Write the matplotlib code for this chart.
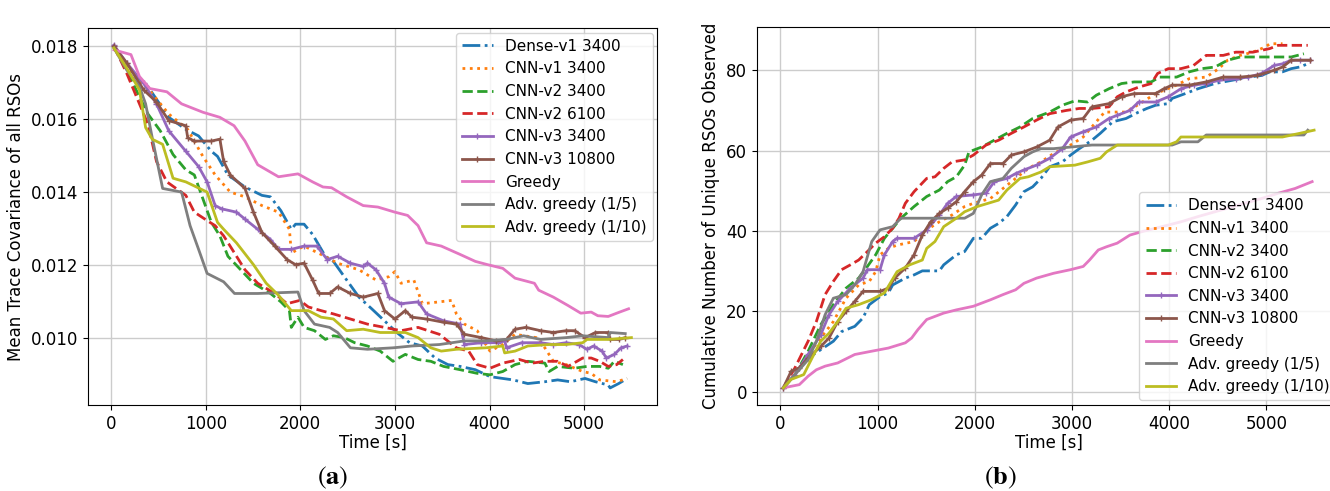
import matplotlib
matplotlib.use("Agg")
import matplotlib.pyplot as plt

plt.rcParams['mathtext.fontset'] = 'stix'

labels = ['Dense-v1 3400', 'CNN-v1 3400', 'CNN-v2 3400', 'CNN-v2 6100',
          'CNN-v3 3400', 'CNN-v3 10800', 'Greedy', 'Adv. greedy (1/5)',
          'Adv. greedy (1/10)']

# ---- (a) mean trace covariance ----
cov_dense_t = [30, 165, 390, 610, 790, 925, 1060, 1125, 1235, 1415, 1595, 1685, 1795, 1905, 1950, 2040,
               2130, 2265, 2350, 2490, 2620, 2755, 2890, 3020, 3155, 3290, 3425, 3560, 3690, 3850, 4005,
               4140, 4250, 4405, 4585, 4720, 4855, 5010, 5120, 5255, 5275, 5365, 5455]
cov_dense = [0.0180, 0.01744, 0.01689, 0.01605, 0.01572, 0.01554, 0.01512, 0.01498, 0.01447, 0.01414,
             0.01391, 0.01387, 0.01349, 0.01298, 0.01312, 0.01312, 0.01284, 0.01224, 0.01210, 0.01159,
             0.01112, 0.01080, 0.01047, 0.01015, 0.00987, 0.00978, 0.00945, 0.00927, 0.00922, 0.00913,
             0.00894, 0.00889, 0.00885, 0.00875, 0.00880, 0.00885, 0.00880, 0.00889, 0.00880, 0.00871,
             0.00863, 0.00875, 0.00889]

cov_cnn1_t = [30, 165, 390, 610, 810, 970, 1100, 1260, 1415, 1595, 1770, 1885, 1905, 2040, 2220, 2395,
              2620, 2800, 2935, 3000, 3065, 3200, 3290, 3470, 3600, 3650, 3735, 3870, 4005, 4140, 4270,
              4495, 4585, 4675, 4810, 4985, 5075, 5165, 5345, 5455]
cov_cnn1 = [0.0180, 0.01740, 0.01684, 0.01614, 0.01572, 0.01498, 0.01447, 0.01400, 0.01387, 0.01363,
            0.01345, 0.01298, 0.01233, 0.01252, 0.01229, 0.01205, 0.01187, 0.01159, 0.01168, 0.01182,
            0.01150, 0.01159, 0.01094, 0.01099, 0.01103, 0.01066, 0.01038, 0.01020, 0.00964, 0.00982,
            0.01010, 0.01001, 0.00973, 0.00936, 0.00927, 0.00908, 0.00903, 0.00885, 0.00880, 0.00889]

cov_cnn2_t = [30, 165, 300, 390, 520, 655, 790, 880, 970, 1060, 1150, 1235, 1370, 1505, 1685, 1795,
              1885, 1905, 1975, 2040, 2150, 2265, 2350, 2465, 2575, 2710, 2845, 2980, 3110, 3245, 3380,
              3515, 3690, 3870, 4005, 4140, 4270, 4405, 4585, 4630, 4720, 4895, 5030, 5165, 5255, 5320,
              5410]
cov_cnn2 = [0.0180, 0.01735, 0.01661, 0.01614, 0.01568, 0.01503, 0.01461, 0.01447, 0.01382, 0.01317,
            0.01280, 0.01224, 0.01187, 0.01150, 0.01122, 0.01099, 0.01075, 0.01029, 0.01057, 0.01029,
            0.01020, 0.00996, 0.01006, 0.01001, 0.00987, 0.00978, 0.00964, 0.00936, 0.00955, 0.00941,
            0.00936, 0.00922, 0.00913, 0.00903, 0.00899, 0.00908, 0.00927, 0.00936, 0.00931, 0.00908,
            0.00922, 0.00917, 0.00922, 0.00922, 0.00917, 0.00936, 0.00927]

cov_cnn2b_t = [30, 165, 300, 390, 480, 590, 790, 880, 1015, 1100, 1190, 1280, 1415, 1550, 1730, 1860,
               1995, 2085, 2220, 2350, 2530, 2710, 2890, 3065, 3245, 3470, 3650, 3780, 3870, 4005, 4140,
               4315, 4450, 4585, 4720, 4830, 4985, 5075, 5165, 5255, 5345, 5410]
cov_cnn2b = [0.0180, 0.01726, 0.01642, 0.01586, 0.01484, 0.01428, 0.01391, 0.01345, 0.01322, 0.01308,
             0.01280, 0.01243, 0.01187, 0.01150, 0.01122, 0.01094, 0.01103, 0.01085, 0.01075, 0.01066,
             0.01052, 0.01038, 0.01029, 0.01020, 0.01029, 0.01010, 0.00973, 0.00964, 0.00927, 0.00917,
             0.00931, 0.00941, 0.00931, 0.00936, 0.00936, 0.00922, 0.00945, 0.00945, 0.00936, 0.00922,
             0.00927, 0.00941]

cov_cnn3_t = [30, 165, 345, 480, 610, 790, 925, 1015, 1100, 1170, 1325, 1415, 1550, 1685, 1770, 1905,
              2040, 2175, 2285, 2395, 2530, 2665, 2710, 2800, 2890, 2935, 3065, 3245, 3335, 3515, 3690,
              3735, 3915, 4095, 4160, 4180, 4340, 4540, 4675, 4810, 4945, 5030, 5100, 5190, 5235, 5320,
              5390, 5455]
cov_cnn3 = [0.01803, 0.01754, 0.01698, 0.01642, 0.01568, 0.01512, 0.01470, 0.01428, 0.01363, 0.01354,
            0.01345, 0.01326, 0.01298, 0.01270, 0.01243, 0.01243, 0.01252, 0.01252, 0.01215, 0.01224,
            0.01205, 0.01196, 0.01205, 0.01187, 0.01150, 0.01112, 0.01094, 0.01099, 0.01066, 0.01047,
            0.01038, 0.00982, 0.00987, 0.00987, 0.00992, 0.00973, 0.00987, 0.00987, 0.00982, 0.00987,
            0.00982, 0.00969, 0.00978, 0.00964, 0.00945, 0.00955, 0.00973, 0.00978]

cov_cnn3b_t = [30, 165, 345, 480, 610, 790, 810, 880, 1060, 1150, 1190, 1260, 1415, 1505, 1595, 1730,
               1860, 1950, 2040, 2130, 2195, 2310, 2395, 2530, 2665, 2820, 2890, 3000, 3110, 3180, 3335,
               3515, 3650, 3735, 3915, 4070, 4180, 4270, 4385, 4540, 4675, 4810, 4900, 5010, 5120, 5255,
               5275, 5365, 5435]
cov_cnn3b = [0.0180, 0.01754, 0.01680, 0.01647, 0.01596, 0.01582, 0.01549, 0.01540, 0.01540, 0.01545,
             0.01484, 0.01447, 0.01410, 0.01345, 0.01289, 0.01252, 0.01215, 0.01201, 0.01205, 0.01159,
             0.01122, 0.01122, 0.01140, 0.01122, 0.01112, 0.01122, 0.01075, 0.01052, 0.01075, 0.01057,
             0.01052, 0.01043, 0.01038, 0.01010, 0.01001, 0.00992, 0.00996, 0.01024, 0.01029, 0.01020,
             0.01015, 0.01020, 0.01020, 0.01001, 0.01015, 0.01015, 0.00996, 0.00996, 0.01001]

cov_greedy_t = [30, 210, 300, 410, 590, 745, 970, 1150, 1300, 1415, 1550, 1770, 1975, 2130, 2240, 2330,
                2490, 2665, 2820, 3000, 3135, 3245, 3335, 3490, 3690, 3850, 3980, 4140, 4270, 4475, 4520,
                4675, 4830, 4965, 5075, 5145, 5255, 5365, 5470]
cov_greedy = [0.0179, 0.01777, 0.01717, 0.01684, 0.01675, 0.01642, 0.01619, 0.01605, 0.01582, 0.01540,
              0.01475, 0.01442, 0.01450, 0.01428, 0.01414, 0.01412, 0.01387, 0.01363, 0.01359, 0.01345,
              0.01336, 0.01308, 0.01261, 0.01252, 0.01229, 0.01210, 0.01201, 0.01191, 0.01164, 0.01150,
              0.01131, 0.01112, 0.01089, 0.01068, 0.01071, 0.01061, 0.01059, 0.01070, 0.01080]

cov_adv5_t = [30, 165, 300, 365, 435, 545, 745, 835, 925, 1015, 1190, 1305, 1550, 1975, 2040, 2150, 2310,
              2395, 2530, 2710, 2980, 3180, 3470, 3735, 3960, 4180, 4360, 4540, 4810, 4985, 5255, 5275,
              5435]
cov_adv5 = [0.01795, 0.01735, 0.01689, 0.01642, 0.01549, 0.01410, 0.01400, 0.01308, 0.01243, 0.01177,
            0.01154, 0.01122, 0.01122, 0.01126, 0.01075, 0.01038, 0.01029, 0.01015, 0.00973, 0.00969,
            0.00973, 0.00978, 0.00982, 0.00992, 0.00992, 0.00996, 0.01006, 0.00996, 0.01001, 0.01006,
            0.01001, 0.01015, 0.01012]

cov_adv10_t = [30, 165, 300, 365, 435, 545, 655, 790, 1015, 1125, 1190, 1325, 1505, 1640, 1770, 1905,
               2085, 2220, 2350, 2490, 2665, 2845, 3110, 3245, 3380, 3490, 3650, 3960, 4140, 4160, 4270,
               4405, 4630, 4810, 4985, 5030, 5255, 5500]
cov_adv10 = [0.01795, 0.01740, 0.01680, 0.01577, 0.01545, 0.01531, 0.01438, 0.01428, 0.01400, 0.01317,
             0.01298, 0.01261, 0.01201, 0.01150, 0.01117, 0.01075, 0.01075, 0.01057, 0.01052, 0.01020,
             0.01024, 0.01015, 0.01015, 0.01001, 0.00973, 0.00964, 0.00969, 0.00973, 0.00978, 0.00959,
             0.00964, 0.00978, 0.00982, 0.00982, 0.00987, 0.00996, 0.00996, 0.01001]

# ---- (b) cumulative unique RSOs ----
obs_dense_t = [30, 150, 285, 415, 545, 630, 765, 850, 915, 1025, 1110, 1155, 1285, 1375, 1460, 1635,
               1680, 1810, 1895, 1985, 2070, 2160, 2245, 2330, 2420, 2505, 2595, 2680, 2770, 2900, 2985,
               3075, 3205, 3290, 3420, 3555, 3685, 3770, 3860, 3990, 4030, 4165, 4295, 4470, 4645, 4815,
               4950, 5035, 5165, 5255, 5340, 5425]
obs_dense = [1, 4.3, 8.4, 10.5, 12.6, 15, 16.3, 18.4, 21.7, 23.7, 24.6, 26.6, 28.3, 29.1, 30.1, 30.1,
             31.6, 34.1, 34.9, 38.2, 38.2, 40.7, 41.9, 43.6, 46.5, 49.8, 51, 53.1, 56, 57.2, 58.9, 60.5,
             62.6, 64.3, 67.2, 68, 69.6, 70.5, 71.3, 71.7, 73, 74.2, 75.4, 76.7, 77.5, 78.3, 78.7, 79.6,
             79.6, 80.4, 80.8, 81.6]

obs_cnn1_t = [30, 150, 285, 415, 545, 675, 805, 915, 980, 1025, 1110, 1200, 1375, 1505, 1635, 1765,
              1895, 1985, 2160, 2290, 2420, 2550, 2680, 2810, 2985, 3115, 3250, 3335, 3555, 3725, 3860,
              4075, 4205, 4380, 4510, 4600, 4730, 4860, 4990, 5035, 5165]
obs_cnn1 = [1, 4.3, 9.3, 13.4, 17.5, 23.3, 26.6, 27.5, 29.9, 34.1, 35.7, 36.5, 37.4, 40.3, 42.3, 44,
            46.1, 46.9, 48.1, 50.6, 53.1, 55.6, 57.2, 59.3, 61.4, 63.4, 67.2, 69.6, 69.6, 72.1, 74.2, 76.3,
            77.9, 78.3, 80.4, 82.5, 83.7, 84.5, 85.8, 86.6, 86.6]

obs_cnn2_t = [30, 150, 285, 415, 545, 675, 805, 895, 980, 1070, 1155, 1240, 1375, 1505, 1635, 1720,
              1810, 1895, 1940, 2070, 2200, 2330, 2465, 2595, 2770, 2900, 3030, 3160, 3250, 3380, 3510,
              3640, 3815, 3900, 4075, 4205, 4335, 4470, 4600, 4730, 4860, 5035, 5255, 5385]
obs_cnn2 = [1, 4.3, 10.1, 16.7, 21.7, 25.8, 28.3, 31.2, 34.1, 38.2, 40.7, 43.2, 46.1, 48.6, 50.2, 52.3,
            53.5, 56.4, 59.7, 60.9, 62.6, 64.3, 65.9, 68, 69.6, 71.3, 72.4, 72.1, 73.8, 75.4, 76.7, 77.1,
            77.1, 78.3, 78.3, 79.6, 80.4, 80.8, 82.5, 83.3, 83.3, 83.3, 83.3, 84.1]

obs_cnn2b_t = [30, 150, 285, 370, 460, 545, 630, 720, 805, 895, 980, 1070, 1155, 1220, 1285, 1375, 1505,
               1590, 1680, 1765, 1895, 1985, 2115, 2245, 2375, 2505, 2635, 2770, 2940, 3075, 3205, 3380,
               3465, 3555, 3685, 3815, 3880, 3990, 4120, 4250, 4380, 4555, 4685, 4860, 5035, 5120, 5425]
obs_cnn2b = [1, 6, 12.6, 17.5, 24.2, 27.5, 30.4, 31.6, 32.8, 34.9, 37, 38.6, 40.7, 43.2, 46.9, 49.8,
             53.1, 53.5, 55.6, 57.2, 57.7, 58.9, 61.4, 62.6, 64.3, 65.9, 67.6, 69.2, 70, 70.5, 70.5, 70.9,
             73.4, 74.6, 75.8, 76.7, 79.2, 80.4, 80.4, 81.2, 83.7, 83.7, 84.5, 84.5, 85.4, 86.2, 86.2]

obs_cnn3_t = [30, 150, 285, 415, 500, 590, 720, 850, 895, 1025, 1070, 1155, 1200, 1375, 1505, 1635,
              1720, 1810, 1985, 2115, 2200, 2330, 2420, 2505, 2635, 2770, 2900, 2985, 3115, 3250, 3380,
              3465, 3595, 3685, 3860, 3990, 4120, 4250, 4380, 4510, 4685, 4815, 4950, 5080, 5165, 5255,
              5340, 5450]
obs_cnn3 = [1, 4.3, 9.3, 14.2, 19.2, 22.5, 25.8, 28.3, 30.4, 30.4, 34.1, 37.4, 38.2, 38.2, 40.3, 44,
            46.9, 48.6, 49, 49.4, 52.3, 53.1, 54.3, 55.2, 56.4, 58.1, 60.5, 63.4, 64.7, 65.9, 68, 68.8,
            70, 72.1, 72.1, 73.4, 75.4, 76.3, 76.7, 77.5, 77.9, 78.3, 79.2, 81.2, 81.6, 82.5, 82.5, 82.5]

obs_cnn3b_t = [30, 110, 195, 285, 415, 500, 590, 675, 765, 850, 1025, 1110, 1175, 1285, 1375, 1460,
               1545, 1635, 1720, 1810, 1895, 1985, 2070, 2160, 2290, 2375, 2505, 2635, 2770, 2855, 2985,
               3115, 3205, 3380, 3510, 3640, 3860, 3945, 4030, 4205, 4380, 4555, 4730, 4905, 5080, 5165,
               5255, 5450]
obs_cnn3b = [1, 5.1, 6, 8.4, 11.3, 13.4, 17.5, 20, 22.5, 25, 25, 25.8, 28.3, 30.8, 34.1, 39, 42.3, 44.4,
             45.7, 47.3, 49.8, 52.3, 53.9, 56.8, 56.8, 58.9, 59.7, 60.9, 62.6, 65.9, 67.6, 68, 70.9, 71.7,
             73.4, 74.2, 74.2, 75.4, 76.3, 76.3, 77.1, 78.3, 78.3, 78.7, 80, 80.8, 82.5, 82.5]

obs_greedy_t = [30, 195, 285, 370, 460, 590, 765, 935, 1110, 1285, 1350, 1415, 1505, 1680, 1810, 1985,
                2160, 2290, 2420, 2505, 2635, 2810, 2985, 3115, 3180, 3270, 3355, 3465, 3595, 3725, 3860,
                3990, 4120, 4295, 4470, 4600, 4775, 4950, 5120, 5295, 5470]
obs_greedy = [1, 1.8, 3.9, 5.5, 6.4, 7.2, 9.3, 10.1, 10.9, 12.2, 13.4, 15.5, 18, 19.6, 20.4, 21.3, 22.9,
              24.2, 25.4, 27, 28.3, 29.5, 30.4, 31.2, 32.8, 35.3, 36.1, 37, 39, 39.9, 40.7, 41.5, 42.3,
              43.6, 44.8, 45.7, 46.9, 48.1, 49.4, 50.6, 52.3]

obs_adv5_t = [30, 150, 285, 370, 460, 545, 675, 765, 850, 940, 1025, 1155, 1240, 1545, 1895, 1985, 2070,
              2160, 2290, 2375, 2505, 2595, 2680, 2810, 3030, 3205, 3555, 4030, 4120, 4295, 4380, 4730,
              5385, 5425]
obs_adv5 = [1, 4.3, 8, 12.6, 19.2, 23.3, 24.2, 26.6, 29.9, 37.4, 40.3, 41.1, 43.2, 43.2, 43.2, 44.4, 49,
            52.3, 53.1, 55.6, 58.5, 59.7, 60.5, 60.5, 61, 61.4, 61.4, 61.4, 62.2, 62.2, 63.9, 63.9, 63.9,
            65.1]

obs_adv10_t = [30, 110, 240, 325, 415, 500, 590, 675, 805, 935, 1070, 1200, 1330, 1460, 1505, 1590, 1680,
               1810, 1895, 2025, 2245, 2330, 2465, 2550, 2680, 2770, 3030, 3160, 3290, 3355, 3465, 3640,
               3990, 4075, 4120, 4425, 5165, 5340, 5490]
obs_adv10 = [1, 3.1, 4.3, 8.4, 12.6, 14.6, 17.5, 20.8, 21.7, 22.9, 24.6, 29.9, 31.6, 32.8, 35.7, 37.4,
             41.1, 43.2, 44.8, 46.1, 47.7, 50.2, 53.1, 53.5, 54.7, 56, 56.4, 57.2, 58.1, 59.7, 61.4, 61.4,
             61.4, 62.2, 63.4, 63.4, 63.4, 64.3, 65.1]

colors = ['tab:blue', 'tab:orange', 'tab:green', 'tab:red', 'tab:purple', 'tab:brown',
          'tab:pink', 'tab:gray', 'tab:olive']
styles = ['-.', ':', '--', '--', '-', '-', '-', '-', '-']
markers = [None, None, None, None, '+', '+', None, None, None]

cov_series = [(cov_dense_t, cov_dense), (cov_cnn1_t, cov_cnn1), (cov_cnn2_t, cov_cnn2),
              (cov_cnn2b_t, cov_cnn2b), (cov_cnn3_t, cov_cnn3), (cov_cnn3b_t, cov_cnn3b),
              (cov_greedy_t, cov_greedy), (cov_adv5_t, cov_adv5), (cov_adv10_t, cov_adv10)]
obs_series = [(obs_dense_t, obs_dense), (obs_cnn1_t, obs_cnn1), (obs_cnn2_t, obs_cnn2),
              (obs_cnn2b_t, obs_cnn2b), (obs_cnn3_t, obs_cnn3), (obs_cnn3b_t, obs_cnn3b),
              (obs_greedy_t, obs_greedy), (obs_adv5_t, obs_adv5), (obs_adv10_t, obs_adv10)]

fig = plt.figure(figsize=(13.3, 4.91), dpi=100)
ax1 = fig.add_axes([0.0662, 0.175, 0.428, 0.768])
ax2 = fig.add_axes([0.569, 0.175, 0.439, 0.771])

for ax, series in ((ax1, cov_series), (ax2, obs_series)):
    for (t, v), lab, c, ls, m in zip(series, labels, colors, styles, markers):
        ax.plot(t, v, linestyle=ls, color=c, lw=2, marker=m, markersize=4,
                markeredgewidth=1, label=lab)
    ax.grid(True, color='#cccccc', lw=1)
    ax.tick_params(labelsize=12)
    ax.set_xlabel('Time [s]', fontsize=12, labelpad=1)

ax1.set_xticks([0, 1000, 2000, 3000, 4000, 5000])
ax1.set_yticks([0.010, 0.012, 0.014, 0.016, 0.018])
ax1.set_ylabel('Mean Trace Covariance of all RSOs', fontsize=12)
ax1.legend(loc='upper right', fontsize=11, borderaxespad=0.3)

ax2.set_xticks([0, 1000, 2000, 3000, 4000, 5000])
ax2.set_yticks([0, 20, 40, 60, 80])
ax2.set_ylabel('Cumulative Number of Unique RSOs Observed', fontsize=12)
ax2.legend(loc='lower right', fontsize=11, borderaxespad=0.3)

fig.text(0.250, 0.014, r'$(\mathbf{a})$', fontsize=19, ha='center', va='baseline')
fig.text(0.752, 0.014, r'$(\mathbf{b})$', fontsize=19, ha='center', va='baseline')

fig.savefig('out.png', dpi=100)
